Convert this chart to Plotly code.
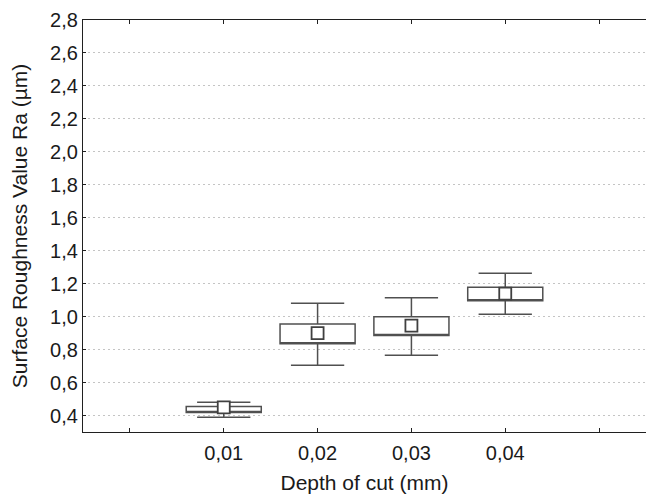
import plotly.graph_objects as go

# Surface roughness Ra per depth of cut: mean, box (lower/upper) and whisker ends
depth_labels = ["0,01", "0,02", "0,03", "0,04"]
mean_ra = [0.449, 0.900, 0.946, 1.140]
box_low = [0.418, 0.835, 0.885, 1.097]
box_high = [0.455, 0.956, 1.000, 1.178]
whisker_low = [0.390, 0.705, 0.766, 1.014]
whisker_high = [0.481, 1.081, 1.114, 1.263]

y_ticks = [0.4, 0.6, 0.8, 1.0, 1.2, 1.4, 1.6, 1.8, 2.0, 2.2, 2.4, 2.6, 2.8]

positions = list(range(1, len(depth_labels) + 1))
x_tickvals = [0] + positions + [len(depth_labels) + 1]
x_ticktext = [""] + depth_labels + [""]

line_col = "#505050"
font_family = "Liberation Sans, Arial, sans-serif"

fig = go.Figure()

# Box = mean ± SE band, whiskers with caps; the centre line sits on the lower
# edge so only the mean marker is shown inside the box
fig.add_trace(go.Box(
    x=positions,
    q1=box_low,
    median=box_low,
    q3=box_high,
    lowerfence=whisker_low,
    upperfence=whisker_high,
    width=0.8,
    whiskerwidth=0.71,
    fillcolor="white",
    line=dict(color=line_col, width=1.5),
    boxpoints=False,
    showlegend=False,
    hoverinfo="skip",
))

# Mean markers
fig.add_trace(go.Scatter(
    x=positions,
    y=mean_ra,
    mode="markers",
    marker=dict(symbol="square", size=12, color="white",
                line=dict(color="#404040", width=1.8)),
    showlegend=False,
    hoverinfo="skip",
))

fig.update_layout(
    width=646,
    height=498,
    margin=dict(l=83, r=0, t=20, b=66),
    paper_bgcolor="white",
    plot_bgcolor="white",
    separators=", ",
    font=dict(family=font_family, size=20, color="#1a1a1a"),
)

fig.update_xaxes(
    range=[-0.5, len(depth_labels) + 1.5],
    tickmode="array",
    tickvals=x_tickvals,
    ticktext=x_ticktext,
    ticks="inside",
    ticklen=4,
    tickwidth=1,
    tickcolor="#202020",
    showline=True,
    linecolor="#202020",
    linewidth=1.2,
    mirror="ticks",
    showgrid=False,
    zeroline=False,
    ticklabelstandoff=3,
    title=dict(text="Depth of cut (mm)", font=dict(size=21), standoff=12),
    tickfont=dict(size=20),
)

fig.update_yaxes(
    range=[0.3, 2.8],
    tickmode="array",
    tickvals=y_ticks,
    tickformat=".1f",
    ticks="inside",
    ticklen=3,
    tickwidth=1,
    tickcolor="#202020",
    showline=True,
    linecolor="#202020",
    linewidth=1.2,
    mirror=False,
    showgrid=True,
    gridcolor="#c4c4c4",
    gridwidth=1,
    griddash="2px,3px",
    zeroline=False,
    title=dict(text="Surface Roughness Value Ra (µm)", font=dict(size=21), standoff=16),
    tickfont=dict(size=20),
)

fig.write_html("out.html")
